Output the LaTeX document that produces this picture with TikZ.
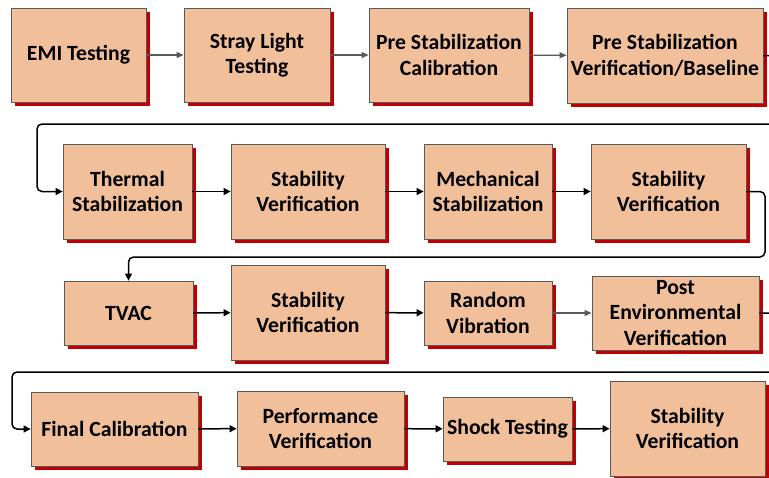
\documentclass[tikz,border=0pt]{standalone}
\usepackage{fontspec}
\setmainfont{Carlito}
\usetikzlibrary{arrows.meta}
\usetikzlibrary{shadows}

\definecolor{boxfill}{HTML}{F1C09A}
\definecolor{boxline}{HTML}{595959}
\definecolor{shadowred}{HTML}{C00000}

\begin{document}
\begin{tikzpicture}[x=1pt, y=-1pt,
    stage/.style={draw=boxline, line width=0.8pt, fill=boxfill, align=center, inner sep=2pt,
      font=\fontsize{21.7}{25.5}\selectfont\bfseries,
      drop shadow={shadow xshift=3.5pt, shadow yshift=-4pt, fill=shadowred, opacity=1}},
    greyflow/.style={draw=boxline, line width=1.1pt, -{Triangle[length=7pt, width=6pt]}},
    flow/.style={draw=black, line width=1.5pt, -{Triangle[length=7pt, width=7pt]}},
    wrap/.style={flow, rounded corners=5pt}]
      \useasboundingbox (0,0) rectangle (769,477);
      \clip (0,0) rectangle (769,477);

      % first row
      \node[stage, minimum width=135pt, minimum height=94pt] (emi) at (78.5,55) {EMI Testing};
      \node[stage, minimum width=146pt, minimum height=94pt] (stray) at (257,55) {Stray Light\\Testing};
      \node[stage, minimum width=160pt, minimum height=94pt] (precal) at (449,55) {Pre Stabilization\\Calibration};
      \node[stage, minimum width=196pt, minimum height=95pt] (prever) at (665,55.5) {Pre Stabilization\\Verification/Baseline};

      % second row
      \node[stage, minimum width=129pt, minimum height=95pt] (thermal) at (127.5,191.5) {Thermal\\Stabilization};
      \node[stage, minimum width=154pt, minimum height=95pt] (stab1) at (308,191.5) {Stability\\Verification};
      \node[stage, minimum width=128pt, minimum height=95pt] (mech) at (488,191.5) {Mechanical\\Stabilization};
      \node[stage, minimum width=155pt, minimum height=95pt] (stab2) at (668.5,191.5) {Stability\\Verification};

      % third row
      \node[stage, minimum width=129pt, minimum height=64pt] (tvac) at (128.5,313) {TVAC};
      \node[stage, minimum width=154pt, minimum height=95pt] (stab3) at (308,312.5) {Stability\\Verification};
      \node[stage, minimum width=128pt, minimum height=64pt] (randvib) at (488,313) {Random\\Vibration};
      \node[stage, minimum width=167pt, minimum height=74pt] (postenv) at (675.5,313) {Post\\Environmental\\Verification};

      % fourth row
      \node[stage, minimum width=167pt, minimum height=74pt] (finalcal) at (114.5,429) {Final Calibration};
      \node[stage, minimum width=167pt, minimum height=75pt] (perf) at (320.5,428.5) {Performance\\Verification};
      \node[stage, minimum width=129pt, minimum height=64pt, inner sep=0pt] (shock) at (507.5,429) {Shock Testing};
      \node[stage, minimum width=155pt, minimum height=95pt] (stab4) at (687.5,428.5) {Stability\\Verification};

      \coordinate (turn1) at (37,124);
      \coordinate (turn2) at (765,257);
      \coordinate (turn3) at (12,372);

      \draw[greyflow] (emi) -- (stray);
      \draw[greyflow] (stray) -- (precal);
      \draw[greyflow] (precal) -- (prever);
      \draw[wrap] (prever.east) -- ++(15,0) |- (turn1) |- (thermal.west);

      \draw[flow] (thermal) -- (stab1);
      \draw[flow] (stab1) -- (mech);
      \draw[flow] (mech) -- (stab2);
      \draw[wrap] (stab2.east) -| (turn2) -| (tvac.north);

      \draw[flow] (tvac) -- (stab3);
      \draw[flow] (stab3) -- (randvib);
      \draw[greyflow] (randvib) -- (postenv);
      \draw[wrap] (postenv.east) -- ++(15,0) |- (turn3) |- (finalcal.west);

      \draw[flow] (finalcal) -- (perf);
      \draw[flow] (perf) -- (shock);
      \draw[flow] (shock) -- (stab4);
\end{tikzpicture}
\end{document}
